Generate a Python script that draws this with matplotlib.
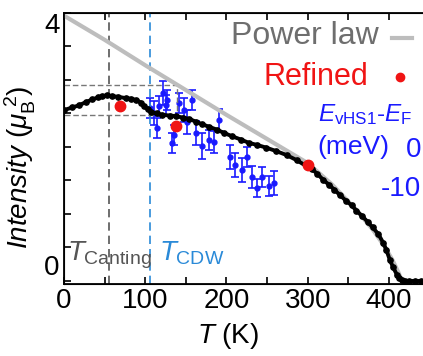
import numpy as np
import matplotlib
matplotlib.use("Agg")
from matplotlib import pyplot as plt
from matplotlib.lines import Line2D
from matplotlib.ticker import MultipleLocator, FixedLocator

plt.rcParams['font.family'] = ['Liberation Sans', 'DejaVu Sans']
plt.rcParams['mathtext.fontset'] = 'custom'
plt.rcParams['mathtext.rm'] = 'Liberation Sans'
plt.rcParams['mathtext.it'] = 'Liberation Sans:italic'
plt.rcParams['mathtext.bf'] = 'Liberation Sans:bold'
plt.rcParams['axes.unicode_minus'] = False

# magnetic intensity (black dots)
t_mag = [0, 10, 18, 27, 35, 42, 47, 53, 59, 66, 76, 83, 89, 95, 99, 103, 107, 114, 121, 130,
         138, 146, 154, 162, 170, 179, 188, 197, 207, 218, 228, 238, 249, 261, 274, 287, 299,
         305, 312, 319, 326, 333, 340, 347, 354, 360, 367, 374, 380, 387, 393, 397, 401, 405,
         410, 413, 416, 420, 425, 432, 440, 450]
i_mag = [2.55, 2.59, 2.62, 2.67, 2.71, 2.74, 2.76, 2.77, 2.76, 2.75, 2.73, 2.72, 2.70, 2.66,
         2.61, 2.56, 2.52, 2.50, 2.48, 2.47, 2.46, 2.44, 2.42, 2.38, 2.34, 2.30, 2.26, 2.21,
         2.16, 2.11, 2.06, 2.03, 1.99, 1.94, 1.88, 1.80, 1.71, 1.67, 1.60, 1.51, 1.44, 1.36,
         1.28, 1.20, 1.13, 1.05, 0.97, 0.88, 0.80, 0.70, 0.57, 0.46, 0.32, 0.21, 0.09, 0.04,
         0.01, 0.0, 0.0, 0.0, 0.0, 0.0]

# power law fit (grey)
t_pow = [0, 50, 100, 150, 200, 250, 300, 330, 360, 380, 395, 405, 412, 416]
i_pow = [3.96, 3.60, 3.22, 2.85, 2.48, 2.12, 1.76, 1.44, 1.06, 0.77, 0.51, 0.30, 0.12, 0.0]

# refined points (red)
t_ref = [69, 138, 300]
i_ref = [2.61, 2.31, 1.73]

# E_vHS1 - E_F (blue, right scale in meV)
t_vhs = [106, 111, 114, 117, 122, 125, 127, 133, 136, 142, 148, 151, 157, 163, 170, 179,
         185, 191, 204, 210, 219, 225, 232, 238, 244, 253, 259]
e_vhs = [10.0, 8.7, 4.9, 10.5, 13.8, 10.8, 12.1, 1.0, 3.1, 11.3, 9.5, 6.4, 12.1, 3.6, 0.3,
         1.8, 1.3, 6.9, -2.6, -4.6, -5.9, -2.6, -7.7, -10.5, -7.7, -10.0, -9.2]
e_err = [2.6, 3.1, 2.6, 2.6, 3.1, 2.6, 2.6, 2.6, 2.6, 2.6, 3.1, 3.1, 2.6, 3.1, 3.3, 2.6,
         2.8, 2.8, 3.1, 3.1, 3.1, 2.6, 2.8, 2.3, 2.6, 2.6, 3.1]
e_ticks = [0, -10]

t_canting = 55
t_cdw = 106
box_t = [0, 139]
box_i = [2.48, 2.92]

fig = plt.figure(figsize=(4.23, 3.56), dpi=100)
ax = fig.add_axes([64/423, 1-284/356, 365.5/423, 271/356])

ax.plot(t_pow, i_pow, color='#bdbdbd', lw=3, zorder=2)
ax.plot(t_mag, i_mag, color='black', lw=2.8, marker='o', ms=3.8, zorder=3)
ax.plot(t_ref, i_ref, 'o', color='#f01414', ms=7.5, zorder=6)

ax.axvline(t_canting, color='#555555', ls=(0, (5, 3)), lw=1.2, zorder=1)
ax.axvline(t_cdw, color='#2a8ad8', ls=(0, (5, 3)), lw=1.2, zorder=1)
ax.plot([box_t[0], box_t[1], box_t[1], box_t[0]], [box_i[1], box_i[1], box_i[0], box_i[0]],
        color='#777777', ls=(0, (4, 2)), lw=1.0, zorder=1)

ax.set_xlim(0, 450)
ax.set_ylim(-0.045, 4.0)
ax.xaxis.set_major_locator(FixedLocator([0, 100, 200, 300, 400]))
ax.xaxis.set_minor_locator(MultipleLocator(50))
ax.yaxis.set_major_locator(FixedLocator([0, 4]))
ax.yaxis.set_minor_locator(MultipleLocator(0.5))
ax.tick_params(which='both', direction='in', top=True, right=False, width=1.2, labelsize=20, pad=3)
ax.tick_params(which='both', length=5)
for sp in ax.spines.values():
    sp.set_linewidth(1.3)
ylabs = ax.get_yticklabels()
ylabs[0].set_verticalalignment('bottom')
ylabs[1].set_verticalalignment('top')

ax.set_xlabel('$T$ (K)', fontsize=20)
ax.xaxis.set_label_coords((228-64)/365.5, -0.135)
ax.set_ylabel(r'$Intensity$ ($\mu_{\rm B}^{\ 2}$)', fontsize=20)
ax.yaxis.set_label_coords(-0.07, 0.43)

ax.text(4, 0.31, r'$T_{\rm Canting}$', color='#555555', fontsize=20, va='baseline')
ax.text(117, 0.31, r'$T_{\rm CDW}$', color='#2a8ad8', fontsize=20, va='baseline')

# blue data on right scale
ax2 = ax.twinx()
ax2.errorbar(t_vhs, e_vhs, yerr=e_err, fmt='o', color='#1a1aff', ms=3.5, lw=1.2,
             capsize=3, capthick=1.2, zorder=5)
ax2.set_ylim(-35.1, 34.4)
ax2.set_yticks(e_ticks, labels=[str(v) for v in e_ticks], ha='right')
ax2.tick_params(axis='y', length=0, labelsize=20, labelcolor='#1a1aff', pad=-6)
ax2.spines['right'].set_visible(False)
ax.set_zorder(ax2.get_zorder() + 1)
ax.patch.set_visible(False)

fig.text(318/423, 1-121/356, r'$E_{\rm vHS1}$-$E_{\rm F}$', color='#1a1aff', fontsize=17.5, va='baseline')
fig.text(317/423, 1-147/356, '(meV)', color='#1a1aff', fontsize=19, va='center')

# legend
fig.text(379/423, 1-36/356, 'Power law', color='#6e6e6e', fontsize=23, ha='right', va='center')
fig.add_artist(Line2D([392/423, 412/423], [1-38/356, 1-38/356], color='#bdbdbd', lw=3))
fig.text(368/423, 1-77/356, 'Refined', color='#f01414', fontsize=22, ha='right', va='center')
fig.add_artist(Line2D([400/423], [1-77/356], marker='o', color='#f01414', ms=6))

fig.savefig('out.png', dpi=100)
